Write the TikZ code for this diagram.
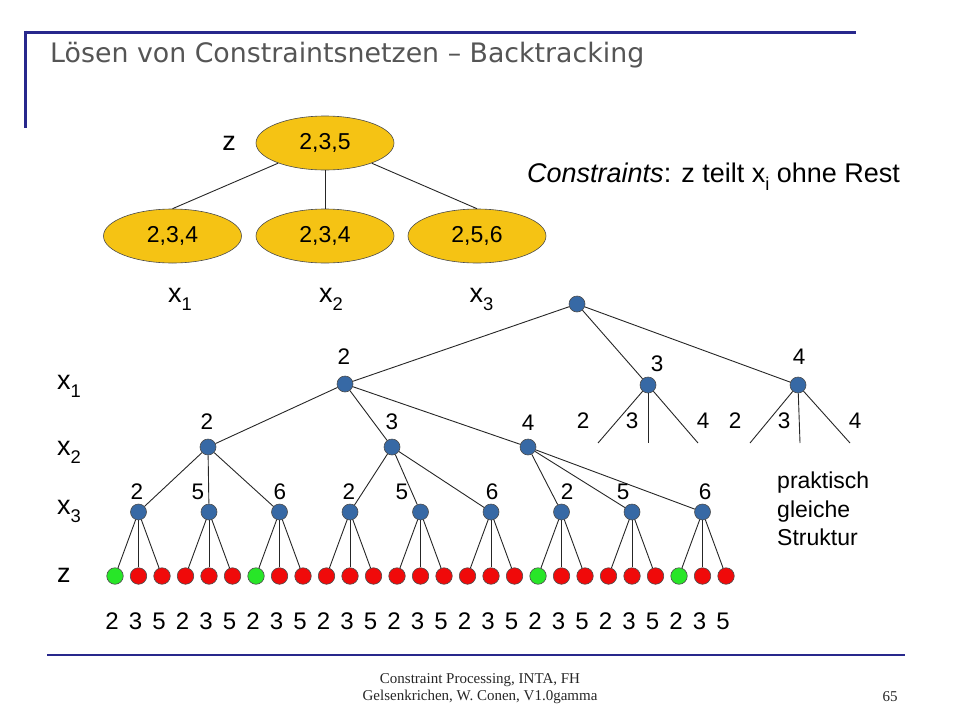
\documentclass[tikz,border=0pt]{standalone}
\usepackage{fontspec}
\setmainfont{Liberation Sans}
\newfontfamily\titlefont{DejaVu Sans}
\newfontfamily\footfont{Liberation Serif}
\usetikzlibrary{shapes.geometric}
\definecolor{gold}{RGB}{245,195,20}
\definecolor{nodeblue}{RGB}{55,105,165}
\definecolor{leafred}{RGB}{240,10,10}
\definecolor{leafgreen}{RGB}{40,230,40}
\definecolor{navy}{RGB}{40,40,140}
\definecolor{titlegray}{RGB}{85,85,85}
\newcommand\fsz[2]{\fontsize{#1}{#2}\selectfont}
\newcommand\sub[1]{\raisebox{-0.3em}{\scalebox{0.68}{#1}}}
\begin{document}
\begin{tikzpicture}[x=1pt,y=-1pt,
  ell/.style={ellipse, draw=black!70, line width=0.6pt, fill=gold, minimum width=138pt, minimum height=54pt, inner sep=0pt, font=\fsz{23}{27}},
  bnode/.style={circle, draw=black!70, line width=0.6pt, fill=nodeblue, minimum size=16pt, inner sep=0pt},
  leaf/.style={circle, draw=black!70, line width=0.6pt, minimum size=16.5pt, inner sep=0pt},
  edge/.style={draw=black!85, line width=0.9pt},
  num/.style={font=\fsz{22.5}{26}, inner sep=0pt},
  leafnum/.style={font=\fsz{24}{28}, inner sep=0pt},
  varlbl/.style={font=\fsz{27}{32}, inner sep=0pt, anchor=base},
  rule/.style={draw=navy, line width=3pt}]
\useasboundingbox (0,0) rectangle (960,720);

% header and footer
\draw[rule] (25,32) -- (856,32);
\draw[rule] (25,30.5) -- (25,128);
\node[anchor=base west, font=\titlefont\fsz{26.8}{32}, text=titlegray, inner sep=0pt] (title) at (50,62) {Lösen von Constraintsnetzen – Backtracking};
\draw[draw=navy, line width=2.2pt] (47,655) -- (905,655);
\node[font=\footfont\fsz{15}{17}, align=center, text=black!85, inner sep=0pt] (foot) at (480,689) {Constraint Processing, INTA, FH\\Gelsenkrichen, W. Conen, V1.0gamma};
\node[font=\footfont\fsz{15}{17}, text=black!85, inner sep=0pt] (page) at (890,697) {65};

% constraint graph
\node[ell] (z) at (325,143) {2,3,5};
\node[ell] (c1) at (172.5,236) {2,3,4};
\node[ell] (c2) at (325,236) {2,3,4};
\node[ell] (c3) at (477,236) {2,5,6};
\draw[edge] (z) -- (c1.north);
\draw[edge] (z.south) -- (c2.north);
\draw[edge] (z) -- (c3.north);
\node[font=\fsz{27}{32}, inner sep=0pt] (zl) at (229,143) {z};
\node[varlbl] (xa) at (180,302) {x\sub{1}};
\node[varlbl] (xb) at (331,302) {x\sub{2}};
\node[varlbl] (xc) at (481.5,302) {x\sub{3}};
\node[anchor=base west, font=\fsz{27}{32}, inner sep=0pt] (cons) at (527,182) {\textit{Constraints}: z teilt x\sub{i} ohne Rest};

% row labels
\node[varlbl, anchor=base west] (r1) at (57,389) {x\sub{1}};
\node[varlbl, anchor=base west] (r2) at (57,455) {x\sub{2}};
\node[varlbl, anchor=base west] (r3) at (57,514) {x\sub{3}};
\node[varlbl, anchor=base west] (r4) at (57,582) {z};

% search tree
\node[bnode] (root) at (577,304) {};
\node[bnode] (p) at (345,384) {};
\node[bnode] (q) at (648,385) {};
\node[bnode] (r) at (798,385) {};
\node[bnode] (a) at (208,447) {};
\node[bnode] (b) at (392,447) {};
\node[bnode] (c) at (528,447) {};
\foreach \k in {0,...,8} \node[bnode] (t\k) at ({138.5+70.5*\k},512) {};
\foreach \i/\c in {0/leafgreen,1/leafred,2/leafred,3/leafred,4/leafred,5/leafred,6/leafgreen,7/leafred,8/leafred,9/leafred,10/leafred,11/leafred,12/leafred,13/leafred,14/leafred,15/leafred,16/leafred,17/leafred,18/leafgreen,19/leafred,20/leafred,21/leafred,22/leafred,23/leafred,24/leafgreen,25/leafred,26/leafred}
  \node[leaf, fill=\c] (l\i) at ({115+23.5*\i},576) {};

\draw[edge] (root) -- (p);
\draw[edge] (root) -- (q);
\draw[edge] (root) -- (r);
\draw[edge] (p) -- (a);
\draw[edge] (p) -- (b);
\draw[edge] (p) -- (c);
\draw[edge] (a) -- (t0); \draw[edge] (a) -- (t1); \draw[edge] (a) -- (t2);
\draw[edge] (b) -- (t3); \draw[edge] (b) -- (t4); \draw[edge] (b) -- (t5);
\draw[edge] (c) -- (t6); \draw[edge] (c) -- (t7); \draw[edge] (c) -- (t8);
\foreach \k in {0,...,8}{
  \pgfmathtruncatemacro\la{3*\k}
  \pgfmathtruncatemacro\lb{3*\k+1}
  \pgfmathtruncatemacro\lc{3*\k+2}
  \draw[edge] (t\k) -- (l\la);
  \draw[edge] (t\k) -- (l\lb);
  \draw[edge] (t\k) -- (l\lc);
}
\coordinate (q1) at (598,443); \coordinate (q2) at (648,443); \coordinate (q3) at (698,443);
\coordinate (r1e) at (750,443); \coordinate (r2e) at (800,443); \coordinate (r3e) at (850,443);
\draw[edge] (q) -- (q1); \draw[edge] (q) -- (q2); \draw[edge] (q) -- (q3);
\draw[edge] (r) -- (r1e); \draw[edge] (r) -- (r2e); \draw[edge] (r) -- (r3e);

% value labels
\node[num] (lp) at (344,357) {2};
\node[num] (lq) at (657,364) {3};
\node[num] (lr) at (799,357) {4};
\node[num] (la) at (207,422) {2};
\node[num] (lb) at (392,422) {3};
\node[num] (lc) at (528,423) {4};
\node[num] (lq1) at (583,421) {2};
\node[num] (lq2) at (632,421) {3};
\node[num] (lq3) at (703,421) {4};
\node[num] (lr1) at (735,421) {2};
\node[num] (lr2) at (784,421) {3};
\node[num] (lr3) at (855,421) {4};
\node[num] (m0) at (137,492) {2};
\node[num] (m1) at (198,492) {5};
\node[num] (m2) at (280,492) {6};
\node[num] (m3) at (349,492) {2};
\node[num] (m4) at (402,492) {5};
\node[num] (m5) at (492,492) {6};
\node[num] (m6) at (567,492) {2};
\node[num] (m7) at (623,492) {5};
\node[num] (m8) at (705,492) {6};
\foreach \i/\t in {0/2,1/3,2/5,3/2,4/3,5/5,6/2,7/3,8/5,9/2,10/3,11/5,12/2,13/3,14/5,15/2,16/3,17/5,18/2,19/3,20/5,21/2,22/3,23/5,24/2,25/3,26/5}
  \node[leafnum] (v\i) at ({112+23.5*\i},621) {\t};

\node[anchor=base west, font=\fsz{23}{28}, inner sep=0pt] (s1) at (777,488) {praktisch};
\node[anchor=base west, font=\fsz{23}{28}, inner sep=0pt] (s2) at (777,517) {gleiche};
\node[anchor=base west, font=\fsz{23}{28}, inner sep=0pt] (s3) at (777,545) {Struktur};
\end{tikzpicture}
\end{document}
